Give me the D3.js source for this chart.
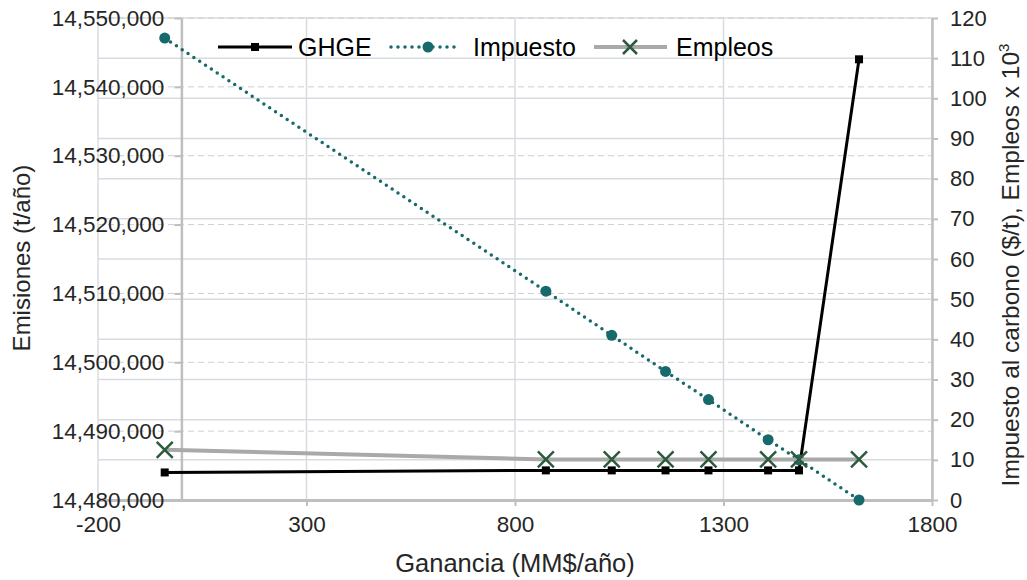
<!DOCTYPE html>
<html>
<head>
<meta charset="utf-8">
<script src="https://cdn.jsdelivr.net/npm/d3@7"></script>
<style>
  html, body { margin: 0; padding: 0; background: #fff; }
  svg { display: block; font-family: "Liberation Sans", Arial, sans-serif; }
</style>
</head>
<body>
<svg id="chart" width="1027" height="580"></svg>
<script>
// Profit (MM$/year) for each scenario
const ganancia = [-40, 874, 1032, 1161, 1264, 1407, 1481, 1625];
// Greenhouse gas emissions (t/year), left axis
const ghge = [14484000, 14484300, 14484300, 14484300, 14484300, 14484300, 14484300, 14544000];
// Carbon tax ($/t), right axis
const impuesto = [115, 52, 41, 32, 25, 15, 10, 0];
// Jobs (x 10^3), right axis
const empleos = [12.5, 10.1, 10.1, 10.1, 10.1, 10.1, 10.1, 10.1];

const xTicks = [-200, 300, 800, 1300, 1800];
const yLeftTicks = [14480000, 14490000, 14500000, 14510000, 14520000, 14530000, 14540000, 14550000];
const yRightTicks = [0, 10, 20, 30, 40, 50, 60, 70, 80, 90, 100, 110, 120];

const svg = d3.select("#chart");
const L = 98, R = 932, T = 18, B = 500;

const x = d3.scaleLinear().domain([-200, 1800]).range([L, R]);
const yL = d3.scaleLinear().domain([14480000, 14550000]).range([B, T]);
const yR = d3.scaleLinear().domain([0, 120]).range([B, T]);

const textColor = "#262626";
const axisColor = "#bfbfbf";
const gridColor = "#d7dbe0";

// Solid horizontal grid (right axis)
svg.append("g").selectAll("line").data(yRightTicks).join("line")
  .attr("x1", L).attr("x2", R)
  .attr("y1", d => yR(d)).attr("y2", d => yR(d))
  .attr("stroke", gridColor).attr("stroke-width", 1.5);

// Dashed horizontal grid (left axis)
svg.append("g").selectAll("line").data(yLeftTicks).join("line")
  .attr("x1", L).attr("x2", R)
  .attr("y1", d => yL(d)).attr("y2", d => yL(d))
  .attr("stroke", "#cfcfcf").attr("stroke-width", 1)
  .attr("stroke-dasharray", "6,4");

// Vertical grid
svg.append("g").selectAll("line").data(xTicks).join("line")
  .attr("x1", d => x(d)).attr("x2", d => x(d))
  .attr("y1", T).attr("y2", B)
  .attr("stroke", gridColor).attr("stroke-width", 1.5);

function styleAxis(g, fontSize) {
  g.select(".domain").attr("stroke", axisColor).attr("stroke-width", 2.5);
  g.selectAll(".tick line").attr("stroke", axisColor).attr("stroke-width", 2);
  g.selectAll(".tick text").attr("fill", textColor)
    .attr("font-size", fontSize).attr("font-family", "Liberation Sans, Arial, sans-serif");
}

// Bottom axis
const gx = svg.append("g").attr("transform", `translate(0,${B})`)
  .call(d3.axisBottom(x).tickValues(xTicks).tickFormat(d => String(d)).tickSize(6).tickSizeOuter(0).tickPadding(10));
styleAxis(gx, 22.5);
gx.select(".domain").attr("stroke-width", 3);

// Left axis, crossing at x = 0
const gyl = svg.append("g").attr("transform", `translate(${x(0)},0)`)
  .call(d3.axisLeft(yL).tickValues(yLeftTicks).tickFormat(d3.format(",")).tickSize(7).tickSizeOuter(0).tickPadding(10));
styleAxis(gyl, 22.5);

// Right axis
const gyr = svg.append("g").attr("transform", `translate(${R},0)`)
  .call(d3.axisRight(yR).tickValues(yRightTicks).tickSize(6).tickSizeOuter(0).tickPadding(12));
styleAxis(gyr, 22);

// Axis titles
svg.append("text").attr("x", 515).attr("y", 572).attr("text-anchor", "middle")
  .attr("font-size", 25.5).attr("fill", textColor).text("Ganancia (MM$/año)");

svg.append("text").attr("transform", `translate(30,258) rotate(-90)`)
  .attr("text-anchor", "middle").attr("font-size", 24).attr("fill", textColor)
  .text("Emisiones (t/año)");

const rt = svg.append("text").attr("transform", `translate(1019,${(T + B) / 2 + 6}) rotate(-90)`)
  .attr("text-anchor", "middle").attr("font-size", 24.5).attr("fill", textColor);
rt.append("tspan").text("Impuesto al carbono ($/t), Empleos x 10");
rt.append("tspan").attr("font-size", 15).attr("dy", -10).text("3");

const idx = d3.range(ganancia.length);

// GHGE series
const lineL = d3.line().x(i => x(ganancia[i])).y(i => yL(ghge[i]));
svg.append("path").datum(idx).attr("d", lineL)
  .attr("fill", "none").attr("stroke", "#000").attr("stroke-width", 3);
svg.append("g").selectAll("rect").data(idx).join("rect")
  .attr("x", i => x(ganancia[i]) - 4).attr("y", i => yL(ghge[i]) - 4)
  .attr("width", 8).attr("height", 8).attr("fill", "#000");

// Impuesto series
const teal = "#17696b";
const lineTax = d3.line().x(i => x(ganancia[i])).y(i => yR(impuesto[i]));
svg.append("path").datum(idx).attr("d", lineTax)
  .attr("fill", "none").attr("stroke", teal).attr("stroke-width", 3.5)
  .attr("stroke-dasharray", "0,7").attr("stroke-linecap", "round");
svg.append("g").selectAll("circle").data(idx).join("circle")
  .attr("cx", i => x(ganancia[i])).attr("cy", i => yR(impuesto[i]))
  .attr("r", 5.5).attr("fill", teal);

// Empleos series
const green = "#2c5a3c";
const lineJobs = d3.line().x(i => x(ganancia[i])).y(i => yR(empleos[i]));
svg.append("path").datum(idx).attr("d", lineJobs)
  .attr("fill", "none").attr("stroke", "#a9a9a9").attr("stroke-width", 4);
const xMark = "M-8,-8L8,8M-8,8L8,-8";
svg.append("g").selectAll("path").data(idx).join("path")
  .attr("transform", i => `translate(${x(ganancia[i])},${yR(empleos[i])})`)
  .attr("d", xMark)
  .attr("fill", "none").attr("stroke", green).attr("stroke-width", 2.5);

// Legend
const ly = 47;
const leg = svg.append("g");
leg.append("rect").attr("x", 220).attr("y", ly - 9).attr("width", 75).attr("height", 18).attr("fill", "#fff");
leg.append("line").attr("x1", 218).attr("x2", 292).attr("y1", ly).attr("y2", ly)
  .attr("stroke", "#000").attr("stroke-width", 3);
leg.append("rect").attr("x", 251).attr("y", ly - 4).attr("width", 8).attr("height", 8).attr("fill", "#000");
leg.append("text").attr("x", 298).attr("y", ly + 9).attr("font-size", 25).attr("fill", "#000").text("GHGE");

leg.append("line").attr("x1", 391).attr("x2", 460).attr("y1", ly).attr("y2", ly)
  .attr("stroke", teal).attr("stroke-width", 3.5).attr("stroke-dasharray", "0,7").attr("stroke-linecap", "round");
leg.append("circle").attr("cx", 428).attr("cy", ly).attr("r", 5.5).attr("fill", teal);
leg.append("text").attr("x", 473).attr("y", ly + 9).attr("font-size", 25).attr("fill", "#000").text("Impuesto");

leg.append("line").attr("x1", 594).attr("x2", 667).attr("y1", ly).attr("y2", ly)
  .attr("stroke", "#a9a9a9").attr("stroke-width", 4);
leg.append("path").attr("transform", `translate(630,${ly})`)
  .attr("d", "M-7,-7L7,7M-7,7L7,-7").attr("stroke", green).attr("stroke-width", 2.5);
leg.append("text").attr("x", 676).attr("y", ly + 9).attr("font-size", 25).attr("fill", "#000").text("Empleos");
</script>
</body>
</html>
